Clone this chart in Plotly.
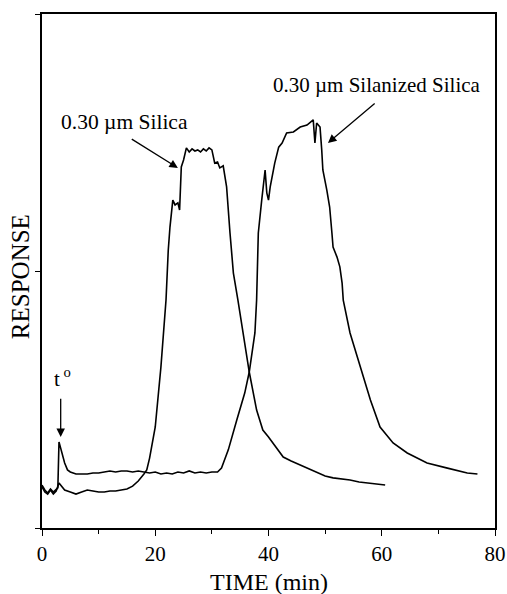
import plotly.graph_objects as go

# ---- data (time in min, response in arbitrary units) ----
silica_t = [0, 0.5, 1, 1.5, 2, 2.5, 3, 3.5, 4, 5, 6, 7, 8, 9, 10, 11, 12, 13, 14, 15,
            16, 17, 18, 18.5, 19, 20, 21, 21.9, 22.3, 22.6, 23.1, 23.5, 24.0, 24.3, 24.6,
            25.0, 25.5, 26, 26.5, 27, 27.5, 28, 28.5, 29, 29.5, 30, 30.2, 30.5, 31, 31.4,
            32, 32.6, 33.2, 33.8, 34.6, 35.5, 36.6, 37.9, 39, 40, 40.8, 42, 42.6, 44, 45.6,
            47, 48.5, 50, 51.4, 53, 54.4, 56, 57.4, 59, 60.6]
silica_r = [16.0, 14.0, 13.2, 14.8, 13.2, 14.4, 17.5, 16.0, 14.8, 14.0, 13.2, 14.0, 14.8,
            14.4, 14.0, 14.0, 14.4, 14.4, 14.8, 15.2, 16.3, 18.3, 21.0, 22.6, 27.2, 39.3,
            62.6, 88.7, 108.2, 117.1, 127.6, 125.7, 126.5, 123.7, 140.5, 143.2, 147.9,
            146.3, 147.5, 146.7, 147.1, 146.3, 147.5, 146.7, 147.9, 147.1, 145.1, 142.0,
            142.4, 140.1, 140.9, 132.7, 114.8, 99.2, 88.7, 75.9, 60.7, 45.9, 38.1, 35.4,
            33.1, 29.6, 27.6, 26.1, 24.5, 23.0, 21.4, 20.2, 19.5, 19.1, 18.7, 17.9, 17.5,
            17.1, 16.7]

silan_t = [0, 0.5, 1, 1.5, 2, 2.5, 2.8, 3.0, 3.5, 4, 4.5, 5, 6, 7, 8, 9, 10, 11, 12, 13,
           14, 15, 16, 17, 18, 19, 20, 21, 22, 23, 24, 25, 26, 27, 28, 29, 30, 31, 31.7,
           32.9, 34.4, 35.8, 36.6, 37.6, 37.9, 38.2, 38.8, 39.4, 39.7, 40.0, 40.3, 41.1,
           41.8, 42.4, 43.2, 44.4, 45.6, 46.8, 47.9, 48.2, 48.5, 48.8, 49.1, 49.4, 49.6,
           50.3, 50.8, 51.2, 51.4, 52.1, 52.6, 53.0, 53.2, 54.4, 56.2, 58, 59.7, 62, 64.5,
           68, 71.6, 75.1, 76.9]
silan_r = [16.7, 14.8, 13.6, 15.2, 14.0, 14.8, 15.6, 33.5, 29.6, 25.3, 22.6, 21.8, 21.0,
           21.0, 21.0, 21.4, 21.4, 21.8, 22.2, 21.8, 22.2, 22.2, 21.8, 22.2, 21.8, 21.4,
           21.8, 21.0, 21.4, 21.0, 21.8, 21.4, 22.2, 21.4, 21.8, 21.4, 21.8, 21.8, 23.3,
           30.4, 42.0, 52.5, 60.7, 75.9, 88.7, 114.8, 127.6, 139.3, 130.4, 127.6, 132.7,
           142.0, 148.2, 149.8, 153.7, 154.1, 156.0, 156.8, 158.8, 149.8, 157.6, 156.8,
           156.0, 147.1, 139.3, 131.5, 124.9, 114.8, 109.3, 105.4, 101.6, 95.3, 88.7,
           75.9, 62.6, 49.8, 39.3, 33.1, 29.2, 25.3, 23.3, 21.4, 21.0]

x_ticks = [0, 20, 40, 60, 80]
y_ticks = [0, 100, 200]

FONT = "Liberation Serif"

fig = go.Figure()
fig.add_trace(go.Scatter(x=silica_t, y=silica_r, mode="lines",
                         line=dict(color="black", width=1.6), showlegend=False))
fig.add_trace(go.Scatter(x=silan_t, y=silan_r, mode="lines",
                         line=dict(color="black", width=1.6), showlegend=False))

# arrows (tail given in data coords)
arrows = [
    dict(x=24.0, y=140.1, ax=15.5, ay=151.8),   # silica
    dict(x=50.5, y=149.8, ax=59.1, ay=165.8),   # silanized
    dict(x=3.3, y=35.4, ax=3.3, ay=51.8),       # t0
]
for a in arrows:
    fig.add_annotation(x=a["x"], y=a["y"], ax=a["ax"], ay=a["ay"],
                       xref="x", yref="y", axref="x", ayref="y",
                       text=" ", showarrow=True, arrowhead=2, arrowsize=1.3,
                       arrowwidth=1.3, arrowcolor="black",
                       font=dict(family=FONT, size=4))

fig.add_annotation(x=14.6, y=158.0, xref="x", yref="y", text="0.30 µm Silica",
                   showarrow=False, font=dict(family=FONT, size=21.5, color="black"))
fig.add_annotation(x=59.2, y=172.4, xref="x", yref="y",
                   text="0.30 µm Silanized Silica",
                   showarrow=False, font=dict(family=FONT, size=21, color="black"))
fig.add_annotation(x=3.6, y=58.5, xref="x", yref="y", text="t<sup> o</sup>",
                   showarrow=False, font=dict(family=FONT, size=21, color="black"))

# axis titles
fig.add_annotation(x=0, y=0.488, xref="paper", yref="paper", xshift=-22,
                   xanchor="center", yanchor="middle",
                   text="RESPONSE", textangle=-90, showarrow=False,
                   font=dict(family=FONT, size=25, color="black"))
fig.add_annotation(x=0.5, y=0, xref="paper", yref="paper", yshift=-54,
                   xanchor="center", yanchor="middle",
                   text="TIME (min)", showarrow=False,
                   font=dict(family=FONT, size=24, color="black"))

fig.update_xaxes(range=[0, 80], tickvals=x_ticks, ticktext=[str(v) for v in x_ticks],
                 ticks="outside", ticklen=6, tickwidth=1.3, tickcolor="black",
                 minor=dict(dtick=10, ticks="outside", ticklen=4, tickcolor="black"),
                 showline=True, linecolor="black", linewidth=1.6, mirror=True,
                 showgrid=False, zeroline=False, automargin=False,
                 tickfont=dict(family=FONT, size=21, color="black"))
fig.update_yaxes(range=[0, 200], tickvals=y_ticks, showticklabels=False,
                 ticks="outside", ticklen=5, tickwidth=1.3, tickcolor="black",
                 showline=True, linecolor="black", linewidth=1.6, mirror=True,
                 showgrid=False, zeroline=False, automargin=False)

fig.update_layout(width=507, height=594,
                  margin=dict(l=42, r=12, t=14, b=66, autoexpand=False),
                  plot_bgcolor="white", paper_bgcolor="white",
                  font=dict(family=FONT, color="black"),
                  showlegend=False)

# remove the default 8px page margin so the figure fills the window exactly
fig.write_html("out.html",
               config={"displayModeBar": False},
               post_script="document.body.style.margin='0px';"
                           "document.body.style.overflow='hidden';")
